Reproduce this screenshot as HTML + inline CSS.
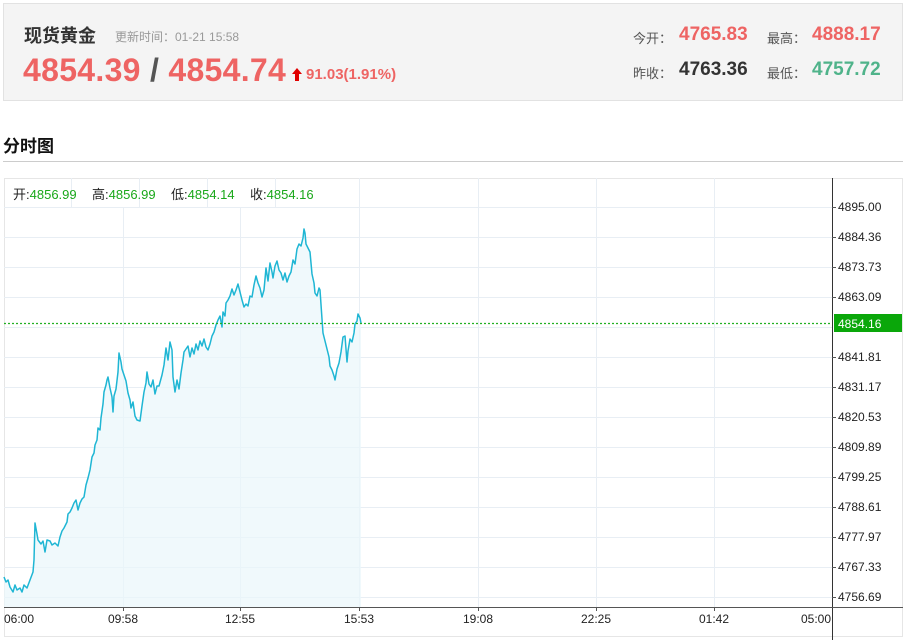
<!DOCTYPE html>
<html><head><meta charset="utf-8"><style>
body{margin:0;width:906px;height:640px;background:#fff;font-family:"Liberation Sans","Noto Sans CJK SC",sans-serif;position:relative;overflow:hidden}
.hd{position:absolute;left:3px;top:3px;width:898px;height:96px;background:#f4f4f4;border:1px solid #e2e2e2}
.a{position:absolute;white-space:nowrap}
.red{color:#ee6463}
</style></head><body>
<div class="hd"></div>
<div class="a" style="left:24px;top:22px;font-size:18px;font-weight:bold;color:#333">现货黄金</div>
<div class="a" style="left:115px;top:28px;font-size:12px;color:#999">更新时间：01-21 15:58</div>
<div class="a red" style="left:23px;top:52px;font-size:32px;font-weight:bold;letter-spacing:0.3px">4854.39<span style="color:#555"> / </span>4854.74</div>
<div class="a" style="left:292px;top:68px;width:0;height:0;border-left:5px solid transparent;border-right:5px solid transparent;border-bottom:6px solid #e00000"></div>
<div class="a" style="left:295px;top:73px;width:4px;height:8px;background:#e00000"></div>
<div class="a red" style="left:306px;top:66px;font-size:15px;font-weight:bold">91.03(1.91%)</div>
<div class="a" style="left:633px;top:28px;font-size:13px;color:#555">今开：</div>
<div class="a red" style="left:679px;top:24px;font-size:19px;font-weight:bold">4765.83</div>
<div class="a" style="left:767px;top:28px;font-size:13px;color:#555">最高：</div>
<div class="a red" style="left:812px;top:24px;font-size:19px;font-weight:bold">4888.17</div>
<div class="a" style="left:633px;top:63px;font-size:13px;color:#555">昨收：</div>
<div class="a" style="left:679px;top:59px;font-size:19px;font-weight:bold;color:#333">4763.36</div>
<div class="a" style="left:767px;top:63px;font-size:13px;color:#555">最低：</div>
<div class="a" style="left:812px;top:59px;font-size:19px;font-weight:bold;color:#4fb38a">4757.72</div>
<div class="a" style="left:3px;top:132px;font-size:17px;font-weight:bold;color:#111">分时图</div>
<div class="a" style="left:3px;top:161px;width:900px;height:1px;background:#ccc"></div>
<svg class="a" style="left:0;top:0" width="906" height="640">
<rect x="4.5" y="178.5" width="898" height="458" fill="none" stroke="#e6e6e6"/>
<g stroke="#e8eef4" stroke-width="1">
<line x1="4" y1="207.5" x2="832" y2="207.5"/><line x1="4" y1="237.5" x2="832" y2="237.5"/><line x1="4" y1="267.5" x2="832" y2="267.5"/><line x1="4" y1="297.5" x2="832" y2="297.5"/><line x1="4" y1="327.5" x2="832" y2="327.5"/><line x1="4" y1="357.5" x2="832" y2="357.5"/><line x1="4" y1="387.5" x2="832" y2="387.5"/><line x1="4" y1="417.5" x2="832" y2="417.5"/><line x1="4" y1="447.5" x2="832" y2="447.5"/><line x1="4" y1="477.5" x2="832" y2="477.5"/><line x1="4" y1="507.5" x2="832" y2="507.5"/><line x1="4" y1="537.5" x2="832" y2="537.5"/><line x1="4" y1="567.5" x2="832" y2="567.5"/><line x1="4" y1="597.5" x2="832" y2="597.5"/>
<line x1="123.5" y1="207" x2="123.5" y2="607"/><line x1="240.5" y1="207" x2="240.5" y2="607"/><line x1="359.5" y1="178" x2="359.5" y2="607"/><line x1="478.5" y1="178" x2="478.5" y2="607"/><line x1="596.5" y1="178" x2="596.5" y2="607"/><line x1="714.5" y1="178" x2="714.5" y2="607"/>
<line x1="71.5" y1="178" x2="71.5" y2="207"/><line x1="139.5" y1="178" x2="139.5" y2="207"/><line x1="207.5" y1="178" x2="207.5" y2="207"/><line x1="275.5" y1="178" x2="275.5" y2="207"/>
</g>
<path d="M4,607 L4,577 L6,582 L8,580 L10,587 L13,592 L15,585 L17,590 L20,588 L22,592 L24,585 L27,588 L30,580 L33,572 L34,560 L35,523 L37,534 L38,540 L41,544 L43,541 L45,552 L47,540 L50,541 L52,545 L55,543 L58,546 L60,537 L62,531 L64,528 L67,522 L68,514 L70,512 L72,508 L74,503 L76,500 L78,510 L80,503 L82,499 L84,497 L86,485 L88,478 L90,470 L92,457 L94,453 L95,445 L97,440 L98,428 L100,430 L101,418 L103,404 L104,392 L106,385 L107,380 L108,377 L110,388 L112,397 L113,412 L114,396 L116,389 L118,372 L119,353 L121,362 L122,369 L124,375 L126,381 L128,393 L130,400 L131,408 L133,402 L135,416 L137,420 L140,421 L142,406 L144,392 L146,383 L147,372 L149,384 L151,387 L153,380 L155,394 L157,386 L159,386 L162,375 L164,365 L166,348 L168,360 L170,342 L172,350 L173,377 L175,392 L177,380 L179,389 L181,373 L183,360 L184,352 L186,349 L188,346 L190,357 L192,348 L194,354 L196,344 L198,350 L200,341 L202,346 L204,339 L206,347 L208,350 L210,344 L212,336 L214,332 L216,325 L218,320 L220,316 L222,327 L223,312 L225,316 L226,303 L228,300 L230,296 L232,289 L234,295 L236,290 L238,284 L240,292 L242,300 L244,307 L246,304 L248,306 L250,296 L252,297 L254,285 L256,276 L258,283 L260,288 L262,297 L264,290 L266,268 L268,281 L270,263 L272,272 L273,278 L275,266 L277,261 L279,270 L281,273 L283,280 L285,273 L287,282 L289,276 L291,272 L293,260 L295,264 L297,249 L299,244 L301,246 L303,238 L304,229 L305,233 L306,244 L308,248 L310,252 L312,274 L314,283 L315,293 L317,296 L319,288 L320,290 L322,319 L323,333 L325,341 L327,349 L329,357 L330,366 L332,370 L334,376 L335,380 L337,369 L339,363 L341,352 L343,337 L345,336 L347,362 L348,351 L350,339 L352,342 L354,333 L355,324 L357,321 L358,314 L360,318 L361,323 L361,607 Z" fill="#eaf6fb" fill-opacity="0.7" stroke="none"/>
<polyline fill="none" stroke="#1fb6d4" stroke-width="1.5" stroke-linejoin="round" points="4,577 6,582 8,580 10,587 13,592 15,585 17,590 20,588 22,592 24,585 27,588 30,580 33,572 34,560 35,523 37,534 38,540 41,544 43,541 45,552 47,540 50,541 52,545 55,543 58,546 60,537 62,531 64,528 67,522 68,514 70,512 72,508 74,503 76,500 78,510 80,503 82,499 84,497 86,485 88,478 90,470 92,457 94,453 95,445 97,440 98,428 100,430 101,418 103,404 104,392 106,385 107,380 108,377 110,388 112,397 113,412 114,396 116,389 118,372 119,353 121,362 122,369 124,375 126,381 128,393 130,400 131,408 133,402 135,416 137,420 140,421 142,406 144,392 146,383 147,372 149,384 151,387 153,380 155,394 157,386 159,386 162,375 164,365 166,348 168,360 170,342 172,350 173,377 175,392 177,380 179,389 181,373 183,360 184,352 186,349 188,346 190,357 192,348 194,354 196,344 198,350 200,341 202,346 204,339 206,347 208,350 210,344 212,336 214,332 216,325 218,320 220,316 222,327 223,312 225,316 226,303 228,300 230,296 232,289 234,295 236,290 238,284 240,292 242,300 244,307 246,304 248,306 250,296 252,297 254,285 256,276 258,283 260,288 262,297 264,290 266,268 268,281 270,263 272,272 273,278 275,266 277,261 279,270 281,273 283,280 285,273 287,282 289,276 291,272 293,260 295,264 297,249 299,244 301,246 303,238 304,229 305,233 306,244 308,248 310,252 312,274 314,283 315,293 317,296 319,288 320,290 322,319 323,333 325,341 327,349 329,357 330,366 332,370 334,376 335,380 337,369 339,363 341,352 343,337 345,336 347,362 348,351 350,339 352,342 354,333 355,324 357,321 358,314 360,318 361,323"/>
<line x1="4" y1="323.5" x2="832" y2="323.5" stroke="#22b022" stroke-width="1.2" stroke-dasharray="2,2"/>
<line x1="4" y1="607.5" x2="832" y2="607.5" stroke="#555"/>
<line x1="832.5" y1="178" x2="832.5" y2="640" stroke="#333"/>
<line x1="832" y1="607.5" x2="903" y2="607.5" stroke="#555"/>
<g stroke="#555"><line x1="123.5" y1="607" x2="123.5" y2="611"/><line x1="240.5" y1="607" x2="240.5" y2="611"/><line x1="359.5" y1="607" x2="359.5" y2="611"/><line x1="478.5" y1="607" x2="478.5" y2="611"/><line x1="596.5" y1="607" x2="596.5" y2="611"/><line x1="714.5" y1="607" x2="714.5" y2="611"/>
<line x1="832" y1="207.5" x2="836" y2="207.5"/><line x1="832" y1="237.5" x2="836" y2="237.5"/><line x1="832" y1="267.5" x2="836" y2="267.5"/><line x1="832" y1="297.5" x2="836" y2="297.5"/><line x1="832" y1="357.5" x2="836" y2="357.5"/><line x1="832" y1="387.5" x2="836" y2="387.5"/><line x1="832" y1="417.5" x2="836" y2="417.5"/><line x1="832" y1="447.5" x2="836" y2="447.5"/><line x1="832" y1="477.5" x2="836" y2="477.5"/><line x1="832" y1="507.5" x2="836" y2="507.5"/><line x1="832" y1="537.5" x2="836" y2="537.5"/><line x1="832" y1="567.5" x2="836" y2="567.5"/><line x1="832" y1="597.5" x2="836" y2="597.5"/></g>
<rect x="834" y="314" width="68" height="18" fill="#0aa70a"/>
<g font-family="Liberation Sans, sans-serif" font-size="12" fill="#222">
<text x="838" y="211">4895.00</text><text x="838" y="241">4884.36</text><text x="838" y="271">4873.73</text><text x="838" y="301">4863.09</text><text x="838" y="328" fill="#fff">4854.16</text><text x="838" y="361">4841.81</text><text x="838" y="391">4831.17</text><text x="838" y="421">4820.53</text><text x="838" y="451">4809.89</text><text x="838" y="481">4799.25</text><text x="838" y="511">4788.61</text><text x="838" y="541">4777.97</text><text x="838" y="571">4767.33</text><text x="838" y="601">4756.69</text>
<text x="4" y="623">06:00</text><text x="123" y="623" text-anchor="middle">09:58</text><text x="240" y="623" text-anchor="middle">12:55</text><text x="359" y="623" text-anchor="middle">15:53</text><text x="478" y="623" text-anchor="middle">19:08</text><text x="596" y="623" text-anchor="middle">22:25</text><text x="714" y="623" text-anchor="middle">01:42</text><text x="831" y="623" text-anchor="end">05:00</text>
</g>
<g font-family="Liberation Sans, Noto Sans CJK SC, sans-serif" font-size="13">
<text x="13" y="199" fill="#222">开:<tspan fill="#1aa81a">4856.99</tspan></text>
<text x="92" y="199" fill="#222">高:<tspan fill="#1aa81a">4856.99</tspan></text>
<text x="171" y="199" fill="#222">低:<tspan fill="#1aa81a">4854.14</tspan></text>
<text x="250" y="199" fill="#222">收:<tspan fill="#1aa81a">4854.16</tspan></text>
</g>
</svg>
</body></html>
